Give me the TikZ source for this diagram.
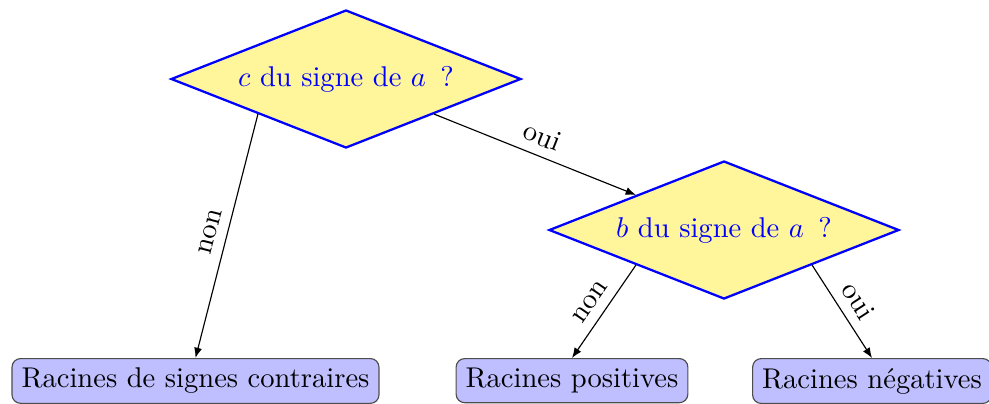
\documentclass[tikz,border=0pt]{standalone}
\usetikzlibrary{shapes.geometric,arrows.meta}
\definecolor{diamfill}{RGB}{255,246,155}
\definecolor{boxfill}{RGB}{191,191,255}
\begin{document}
\begin{tikzpicture}[x=0.35pt,y=-0.35pt,
  question/.style={diamond, shape aspect=2.54, draw=blue, line width=0.8pt,
    fill=diamfill, text=blue, minimum width=122.5pt, minimum height=48.3pt,
    inner sep=0pt},
  answer/.style={rectangle, rounded corners=3pt, draw=black!70, fill=boxfill,
    inner sep=3.33pt, anchor=north},
  link/.style={-{Latex[length=3.6pt,width=2.8pt]}, line width=0.4pt},
  lab/.style={midway, above, sloped}]
  \useasboundingbox (0,0) rectangle (989,403);

  % decision nodes
  \node[question] (q1) at (346,79) {$c$ du signe de $a$~\,?};
  \node[question] (q2) at (724,230) {$b$ du signe de $a$~\,?};

  % outcomes
  \node[answer] (r1) at (195.5,358) {Racines de signes contraires};
  \node[answer] (r2) at (572,358) {Racines positives};
  \node[answer] (r3) at (872,358) {Racines négatives};

  % branches
  \draw[link] (q1.south west) -- node[lab] {non} (r1.north);
  \draw[link] (q1.south east) -- node[lab] {oui} (q2.north west);
  \draw[link] (q2.south west) -- node[lab] {non} (r2.north);
  \draw[link] (q2.south east) -- node[lab] {oui} (r3.north);
\end{tikzpicture}
\end{document}
